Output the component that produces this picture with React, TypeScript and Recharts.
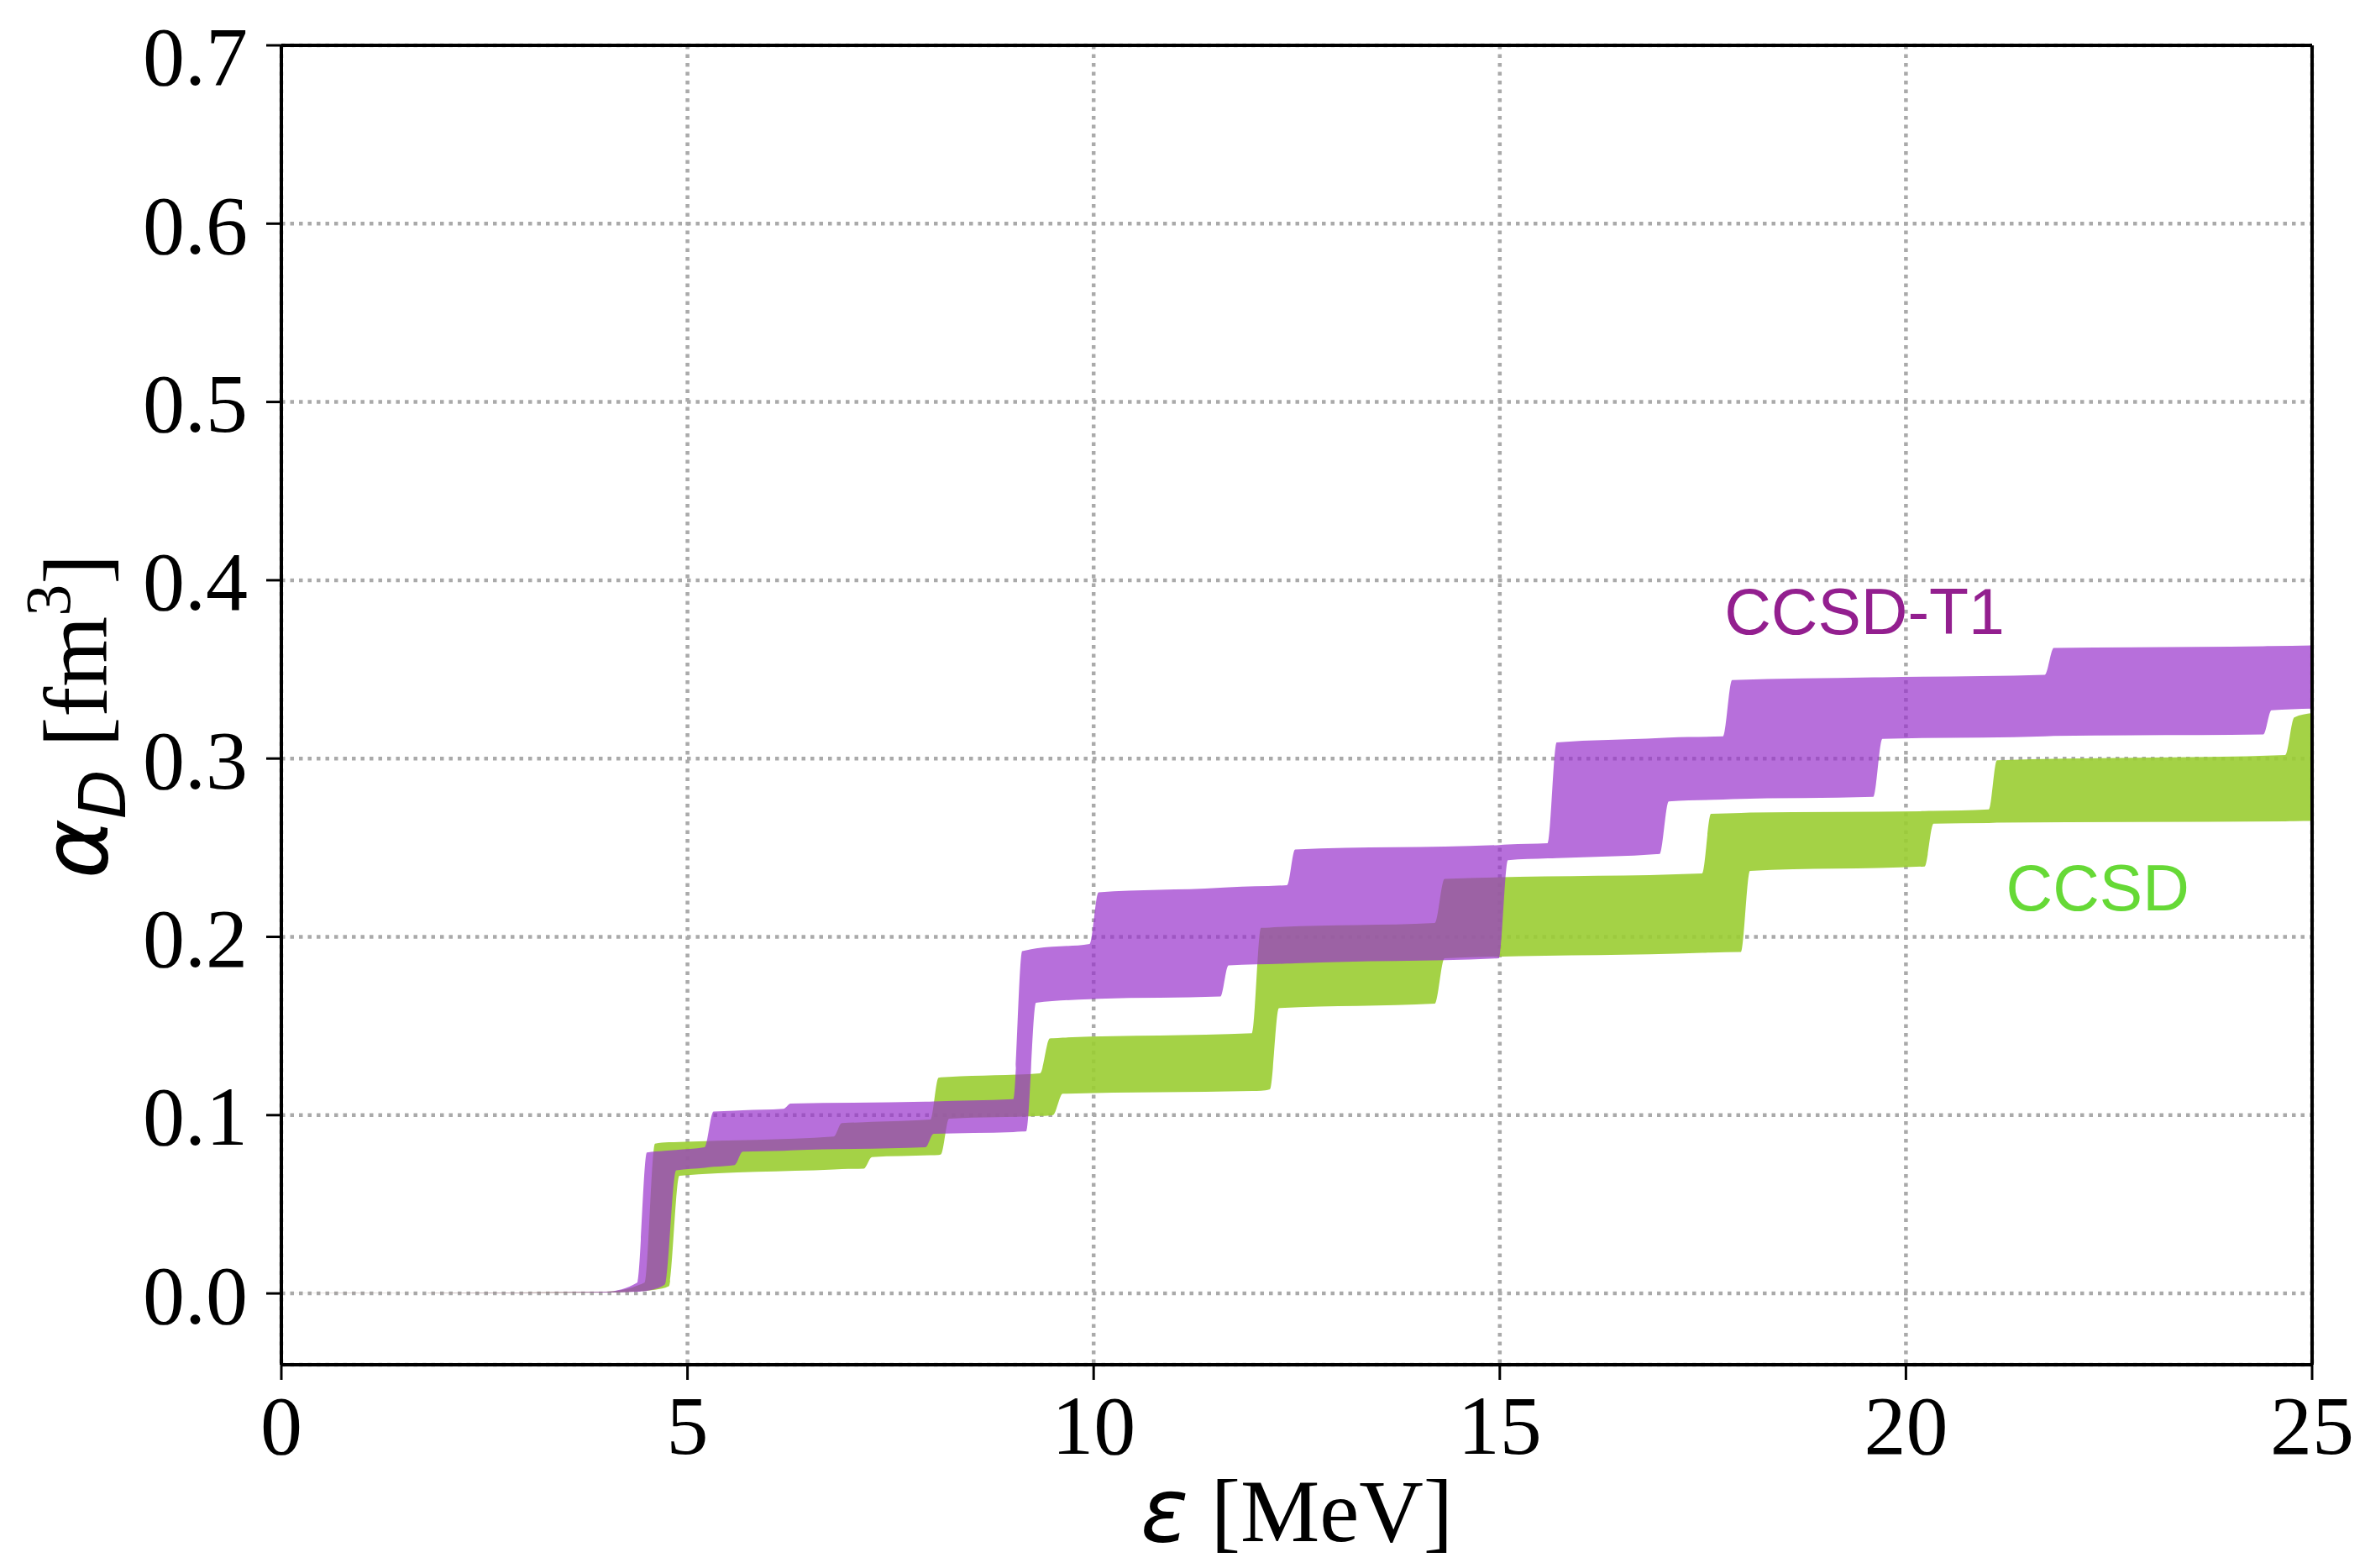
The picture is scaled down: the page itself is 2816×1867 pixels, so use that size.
import React from 'react';
import {
  ComposedChart,
  Area,
  XAxis,
  YAxis,
  CartesianGrid,
  ReferenceLine,
  ReferenceDot,
} from 'recharts';

// CCSD-T1 band (purple): energy [MeV], lower and upper alpha_D [fm^3]
const t1X = [0, 4.0, 4.38, 4.5, 4.72, 4.86, 5.21, 5.32, 5.58, 5.68, 6.18, 6.27, 7.93, 8.03, 9.01, 9.12, 9.17, 9.29, 9.95, 10.06, 11.56, 11.66, 12.38, 12.48, 14.99, 15.1, 15.59, 15.7, 16.97, 17.08, 17.75, 17.86, 19.6, 19.71, 21.71, 21.82, 24.4, 24.5, 25];
const t1Lo = [0, 0.0005, 0.001, 0.0015, 0.005, 0.069, 0.0705, 0.071, 0.072, 0.0795, 0.08, 0.0802, 0.082, 0.0895, 0.0905, 0.0908, 0.091, 0.163, 0.165, 0.1652, 0.1665, 0.184, 0.185, 0.1852, 0.188, 0.243, 0.244, 0.2442, 0.2465, 0.276, 0.277, 0.2772, 0.2785, 0.311, 0.3125, 0.3127, 0.3135, 0.327, 0.328];
const t1Hi = [0, 0.001, 0.006, 0.079, 0.08, 0.0805, 0.082, 0.102, 0.1025, 0.1027, 0.1035, 0.1065, 0.1075, 0.1077, 0.109, 0.192, 0.1925, 0.1935, 0.196, 0.225, 0.2275, 0.2278, 0.229, 0.249, 0.2515, 0.2518, 0.2525, 0.309, 0.3115, 0.3118, 0.3125, 0.344, 0.3455, 0.3456, 0.347, 0.362, 0.363, 0.3631, 0.3635];

// CCSD band (green)
const ccX = [0, 4.0, 4.47, 4.6, 4.77, 4.9, 6.8, 6.9, 7.17, 7.27, 7.99, 8.09, 8.12, 8.22, 9.34, 9.46, 9.5, 9.62, 11.95, 12.06, 12.17, 12.28, 14.2, 14.32, 17.49, 17.6, 17.97, 18.08, 20.23, 20.34, 21.02, 21.12, 24.67, 24.78, 25];
const ccLo = [0, 0.0005, 0.0015, 0.002, 0.004, 0.066, 0.0695, 0.0697, 0.07, 0.0765, 0.0775, 0.0777, 0.078, 0.098, 0.0995, 0.0998, 0.1, 0.112, 0.1135, 0.1137, 0.1145, 0.16, 0.1625, 0.188, 0.191, 0.1912, 0.1915, 0.237, 0.2395, 0.2635, 0.2638, 0.264, 0.2648, 0.2649, 0.265];
const ccHi = [0, 0.001, 0.006, 0.084, 0.0848, 0.085, 0.088, 0.0955, 0.096, 0.0962, 0.0975, 0.121, 0.1212, 0.1215, 0.1235, 0.143, 0.1431, 0.1435, 0.146, 0.205, 0.2052, 0.2055, 0.2078, 0.2325, 0.2355, 0.269, 0.2695, 0.2697, 0.2705, 0.2706, 0.2715, 0.299, 0.302, 0.323, 0.3255];

const xTicks = [0, 5, 10, 15, 20, 25];
const yTicks = [0, 0.1, 0.2, 0.3, 0.4, 0.5, 0.6, 0.7];

const seriesLabels = [
  { text: 'CCSD-T1', x: 19.49, y: 0.3826, color: '#931f8f' },
  { text: 'CCSD', x: 22.36, y: 0.2277, color: '#66d936' },
];

const t1Data = t1X.map((x, i) => ({ x, band: [t1Lo[i], t1Hi[i]] }));
const ccData = ccX.map((x, i) => ({ x, band: [ccLo[i], ccHi[i]] }));

const W = 2800;
const H = 1859;

const XTitle = (props: any) => {
  const vb = props.viewBox || {};
  const cx = vb.x + vb.width / 2;
  const y = vb.y + 210;
  return (
    <text x={cx} y={y} textAnchor="middle" fontSize={106} fontFamily="'Liberation Serif', serif" fill="#000">
      <tspan fontFamily="'DejaVu Sans', sans-serif" fontStyle="italic">ε</tspan>
      <tspan> [MeV]</tspan>
    </text>
  );
};

const YTitle = (props: any) => {
  const cx = 119;
  const cy = 845;
  return (
    <text
      x={cx}
      y={cy}
      transform={`rotate(-90, ${cx}, ${cy})`}
      textAnchor="middle"
      fontSize={108}
      fontFamily="'Liberation Serif', serif"
      fill="#000"
    >
      <tspan fontFamily="'DejaVu Sans', sans-serif" fontStyle="italic">α</tspan>
      <tspan fontFamily="'DejaVu Sans', sans-serif" fontStyle="italic" fontSize={76} dy={22}>D</tspan>
      <tspan dy={-22}> [fm</tspan>
      <tspan fontSize={76} dy={-44}>3</tspan>
      <tspan dy={44}>]</tspan>
    </text>
  );
};

const labelShape = (text: string, color: string) => (props: any) => (
  <text
    x={props.cx}
    y={props.cy}
    textAnchor="middle"
    dominantBaseline="central"
    fontSize={77}
    fontFamily="'Liberation Sans', Arial, sans-serif"
    fill={color}
  >
    {text}
  </text>
);

export default function App() {
  return (
    <div style={{ width: W, height: H, background: '#fff' }}>
      <ComposedChart width={W} height={H} margin={{ top: 46, right: 55, left: 0, bottom: 42 }}>
        <XAxis
          dataKey="x"
          type="number"
          domain={[0, 25]}
          ticks={xTicks}
          allowDataOverflow
          height={200}
          tickSize={18}
          tickMargin={17}
          axisLine={{ stroke: '#000', strokeWidth: 4 }}
          tickLine={{ stroke: '#000', strokeWidth: 3 }}
          tick={{ fill: '#000', fontSize: 100, fontFamily: "'Liberation Serif', serif" }}
          label={<XTitle />}
        />
        <YAxis
          type="number"
          domain={[-0.04, 0.7]}
          ticks={yTicks}
          allowDataOverflow
          width={327}
          tickSize={18}
          tickMargin={22}
          axisLine={{ stroke: '#000', strokeWidth: 4 }}
          tickLine={{ stroke: '#000', strokeWidth: 3 }}
          tick={{ fill: '#000', fontSize: 100, fontFamily: "'Liberation Serif', serif" }}
          tickFormatter={(v: number) => v.toFixed(1)}
          label={<YTitle />}
        />
        <Area
          data={ccData}
          dataKey="band"
          type="monotone"
          stroke="none"
          fill="#9acd32"
          fillOpacity={0.9}
          isAnimationActive={false}
          dot={false}
          activeDot={false}
        />
        <Area
          data={t1Data}
          dataKey="band"
          type="monotone"
          stroke="none"
          fill="#9932cc"
          fillOpacity={0.7}
          isAnimationActive={false}
          dot={false}
          activeDot={false}
        />
        <CartesianGrid stroke="#aaaaaa" strokeWidth={4.5} strokeDasharray="4.5 6" />
        <ReferenceLine y={0.7} stroke="#000" strokeWidth={4} />
        <ReferenceLine x={25} stroke="#000" strokeWidth={4} />
        {seriesLabels.map((l) => (
          <ReferenceDot key={l.text} x={l.x} y={l.y} r={0} shape={labelShape(l.text, l.color)} />
        ))}
      </ComposedChart>
    </div>
  );
}
